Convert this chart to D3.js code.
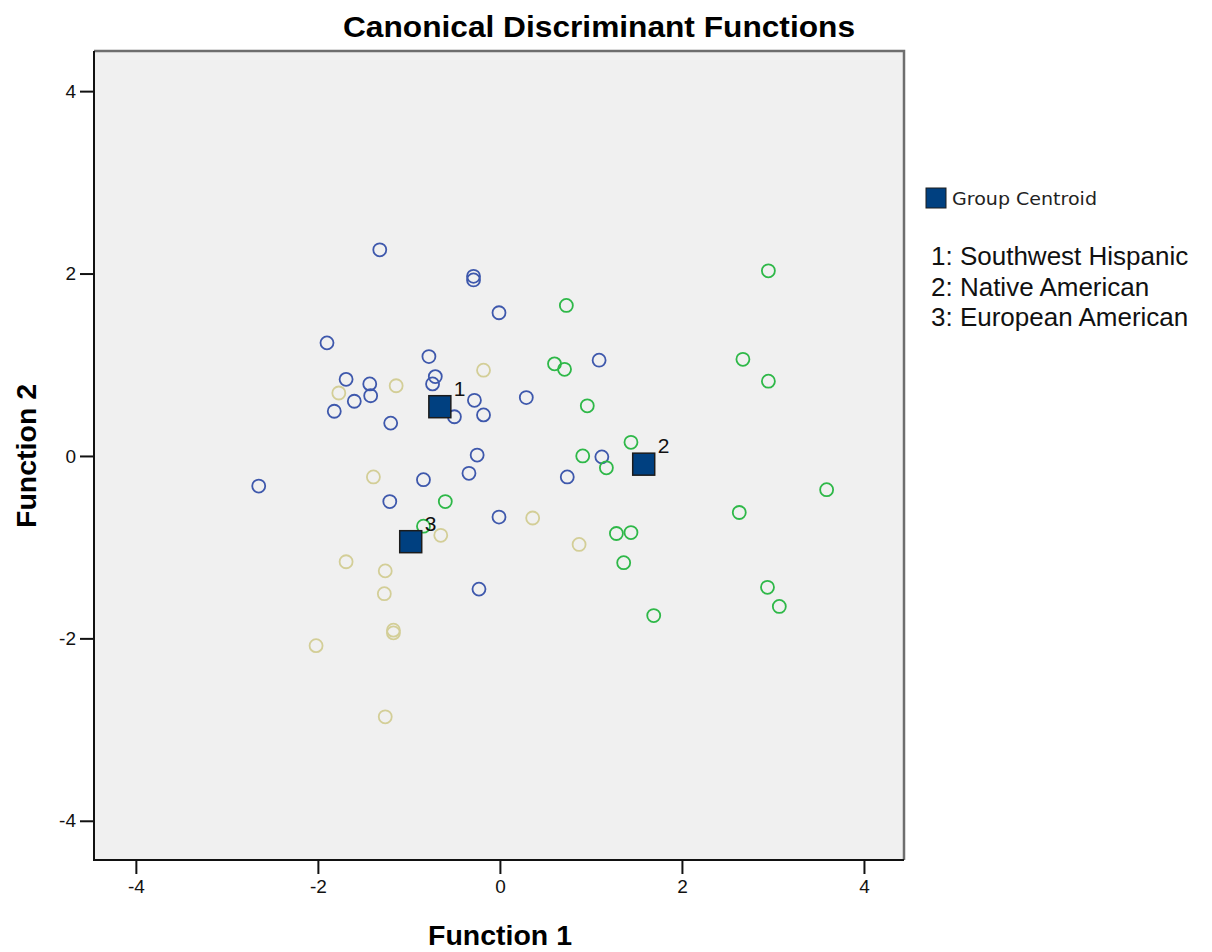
<!DOCTYPE html>
<html>
<head>
<meta charset="utf-8">
<script src="https://cdn.jsdelivr.net/npm/d3@7"></script>
<style>
  body { margin: 0; background: #fff; }
  svg { display: block; }
</style>
</head>
<body>
<div id="chart"></div>
<script>
// group 1: Southwest Hispanic (function 1, function 2)
const hispanic = [
  [-1.32, 2.26], [-0.29, 1.97], [-0.29, 1.93], [-0.01, 1.57], [-1.90, 1.24],
  [-0.78, 1.09], [1.09, 1.05], [-1.69, 0.84], [-0.71, 0.87], [-0.74, 0.79],
  [-1.43, 0.79], [-1.42, 0.66], [-1.60, 0.60], [-1.82, 0.49], [-0.28, 0.61],
  [0.29, 0.64], [-0.50, 0.43], [-0.18, 0.45], [-1.20, 0.36], [-0.25, 0.01],
  [-0.34, -0.19], [-0.84, -0.26], [-2.65, -0.33], [-1.21, -0.50], [1.12, -0.01],
  [0.74, -0.23], [-0.01, -0.67], [-0.23, -1.46]
]
// group 2: Native American
const native = [
  [0.73, 1.65], [0.60, 1.01], [0.71, 0.95], [0.96, 0.55], [1.44, 0.15],
  [0.91, 0.00], [1.17, -0.13], [1.28, -0.85], [1.44, -0.84], [1.36, -1.17],
  [1.69, -1.75], [-0.60, -0.50], [-0.84, -0.77], [2.95, 2.03], [2.67, 1.06],
  [2.95, 0.82], [3.59, -0.37], [2.63, -0.62], [2.94, -1.44], [3.07, -1.65]
]
// group 3: European American
const european = [
  [-0.18, 0.94], [-1.77, 0.69], [-1.14, 0.77], [-1.39, -0.23], [0.36, -0.68],
  [-0.65, -0.87], [0.87, -0.97], [-1.69, -1.16], [-1.26, -1.26], [-1.27, -1.51],
  [-1.17, -1.91], [-1.17, -1.94], [-2.02, -2.08], [-1.26, -2.86]
]
const centroids = [[-0.66, 0.54], [1.58, -0.09], [-0.98, -0.94]]
const centroidLabels = ["1", "2", "3"]
const groupNames = ["1: Southwest Hispanic", "2: Native American", "3: European American"]
const groupColors = ["#3e58ac", "#2eb848", "#d3ce97"]
const ticks = [-4, -2, 0, 2, 4]

const W = 1212, H = 952
const plot = {left: 94, right: 904, top: 51, bottom: 860}

const svg = d3.select("#chart").append("svg").attr("width", W).attr("height", H)

const x = d3.scaleLinear().domain([-4.46, 4.44]).range([plot.left, plot.right])
const y = d3.scaleLinear().domain([-4.43, 4.44]).range([plot.bottom, plot.top])

// plot background + frame
svg.append("rect")
  .attr("x", plot.left).attr("y", plot.top)
  .attr("width", plot.right - plot.left).attr("height", plot.bottom - plot.top)
  .attr("fill", "#f0f0f0")
svg.append("path")
  .attr("d", `M${plot.left},${plot.top}H${plot.right}V${plot.bottom}`)
  .attr("fill", "none").attr("stroke", "#6e6e6e").attr("stroke-width", 2.5)
svg.append("path")
  .attr("d", `M${plot.left},${plot.top}V${plot.bottom}H${plot.right}`)
  .attr("fill", "none").attr("stroke", "#111").attr("stroke-width", 2)

// axes (plain hyphen minus like the original)
const fmt = d => String(d)
const xAxis = d3.axisBottom(x).tickValues(ticks).tickFormat(fmt).tickSize(13).tickSizeOuter(0).tickPadding(6)
const yAxis = d3.axisLeft(y).tickValues(ticks).tickFormat(fmt).tickSize(13).tickSizeOuter(0).tickPadding(4)

const gx = svg.append("g").attr("transform", `translate(0,${plot.bottom + 1})`).call(xAxis)
const gy = svg.append("g").attr("transform", `translate(${plot.left - 1},0)`).call(yAxis)
;[gx, gy].forEach(g => {
  g.select(".domain").remove()
  g.selectAll("line").attr("stroke", "#111").attr("stroke-width", 2)
  g.selectAll("text").attr("fill", "#111")
    .style("font-family", "'Liberation Sans', Arial, sans-serif").style("font-size", "19px")
})

// points
const groups = [hispanic, native, european]
groups.forEach((pts, i) => {
  svg.append("g").selectAll("circle").data(pts).join("circle")
    .attr("cx", d => x(d[0])).attr("cy", d => y(d[1]))
    .attr("r", 6.5)
    .attr("fill", "none")
    .attr("stroke", groupColors[i])
    .attr("stroke-width", 1.8)
})

// centroids
const cg = svg.append("g")
cg.selectAll("rect").data(centroids).join("rect")
  .attr("x", d => x(d[0]) - 11).attr("y", d => y(d[1]) - 11)
  .attr("width", 22).attr("height", 22)
  .attr("fill", "#004080").attr("stroke", "#1c1c1c").attr("stroke-width", 1.5)
cg.selectAll("text").data(centroids).join("text")
  .attr("x", d => x(d[0]) + 14).attr("y", d => y(d[1]) - 11)
  .text((d, i) => centroidLabels[i])
  .style("font-family", "'Liberation Sans', Arial, sans-serif").style("font-size", "21px")
  .attr("fill", "#111")

// title + axis titles
svg.append("text")
  .attr("x", 599).attr("y", 37).attr("text-anchor", "middle")
  .attr("textLength", 512).attr("lengthAdjust", "spacingAndGlyphs")
  .style("font-family", "'Liberation Sans', Arial, sans-serif").style("font-weight", "bold")
  .style("font-size", "29px")
  .text("Canonical Discriminant Functions")

svg.append("text")
  .attr("x", 500).attr("y", 945).attr("text-anchor", "middle")
  .attr("textLength", 144).attr("lengthAdjust", "spacingAndGlyphs")
  .style("font-family", "'Liberation Sans', Arial, sans-serif").style("font-weight", "bold")
  .style("font-size", "27px")
  .text("Function 1")

svg.append("text")
  .attr("transform", `translate(36,${y(0)}) rotate(-90)`).attr("text-anchor", "middle")
  .attr("textLength", 144).attr("lengthAdjust", "spacingAndGlyphs")
  .style("font-family", "'Liberation Sans', Arial, sans-serif").style("font-weight", "bold")
  .style("font-size", "27px")
  .text("Function 2")

// legend
const leg = svg.append("g")
leg.append("rect")
  .attr("x", 926).attr("y", 188).attr("width", 20).attr("height", 20)
  .attr("fill", "#004080").attr("stroke", "#1c1c1c").attr("stroke-width", 1)
leg.append("text")
  .attr("x", 952).attr("y", 205)
  .style("font-family", "'DejaVu Sans', sans-serif").style("font-size", "18px")
  .attr("textLength", 145).attr("lengthAdjust", "spacingAndGlyphs")
  .attr("fill", "#222")
  .text("Group Centroid")
leg.selectAll("text.grp").data(groupNames).join("text")
  .attr("class", "grp")
  .attr("x", 931).attr("y", (d, i) => 265 + i * 30.5)
  .style("font-family", "'Liberation Sans', Arial, sans-serif").style("font-size", "26px")
  .attr("fill", "#111")
  .text(d => d)
</script>
</body>
</html>
